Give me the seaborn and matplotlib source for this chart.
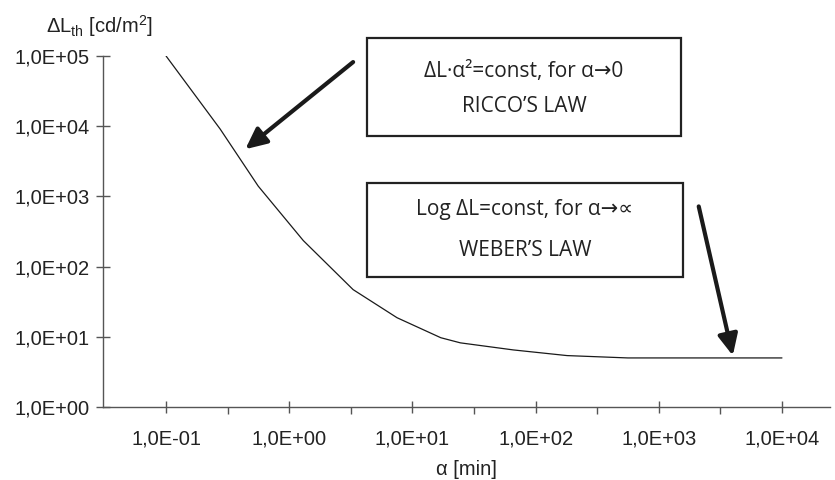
import numpy as np
import pandas as pd
import matplotlib
matplotlib.use("Agg")
import matplotlib.pyplot as plt
import matplotlib.ticker as mticker
from matplotlib.patches import Rectangle
import seaborn as sns

# ---- data ----
alpha_min = [0.1, 0.275, 0.56, 1.3, 3.3, 7.5, 17, 24.5, 66, 180, 560, 10000]
delta_L = [1e5, 9100, 1400, 235, 47, 18.7, 9.7, 8.2, 6.5, 5.4, 5.0, 5.0]

x_major = [1e-1, 1e0, 1e1, 1e2, 1e3, 1e4]
x_labels = ["1,0E-01", "1,0E+00", "1,0E+01", "1,0E+02", "1,0E+03", "1,0E+04"]
y_major = [1e0, 1e1, 1e2, 1e3, 1e4, 1e5]
y_labels = ["1,0E+00", "1,0E+01", "1,0E+02", "1,0E+03", "1,0E+04", "1,0E+05"]

box1_lines = ["ΔL·α²=const, for α→0", "RICCO’S LAW"]
box2_lines = ["Log ΔL=const, for α→∝", "WEBER’S LAW"]

df = pd.DataFrame({"alpha": alpha_min, "dL": delta_L})

sns.set_theme(style="white")
plt.rcParams["font.family"] = ["Liberation Sans", "DejaVu Sans"]
plt.rcParams["mathtext.fontset"] = "custom"
plt.rcParams["mathtext.rm"] = "Liberation Sans"
plt.rcParams["mathtext.it"] = "Liberation Sans:italic"
plt.rcParams["mathtext.bf"] = "Liberation Sans:bold"

W, H = 835, 480
fig = plt.figure(figsize=(W / 100, H / 100), dpi=100)
fig.patch.set_facecolor("white")
ax = fig.add_axes([103 / W, 1 - 407 / H, (830 - 103) / W, (407 - 56) / H])
ax.set_facecolor("white")

sns.lineplot(data=df, x="alpha", y="dL", ax=ax, color="#1a1a1a", linewidth=0.9)

ax.set_xscale("log")
ax.set_yscale("log")
ax.set_xlim(10 ** -1.512, 10 ** 4.39)
ax.set_ylim(1, 1e5)

for s in ["top", "right"]:
    ax.spines[s].set_visible(False)
for s in ["left", "bottom"]:
    ax.spines[s].set_color("#555555")
    ax.spines[s].set_linewidth(1.0)

ax.xaxis.set_major_locator(mticker.FixedLocator(x_major))
ax.xaxis.set_major_formatter(mticker.FixedFormatter(x_labels))
x_minor = [np.sqrt(10) * v for v in x_major[:-1]]
ax.xaxis.set_minor_locator(mticker.FixedLocator(x_minor))
ax.xaxis.set_minor_formatter(mticker.NullFormatter())
ax.yaxis.set_major_locator(mticker.FixedLocator(y_major))
ax.yaxis.set_major_formatter(mticker.FixedFormatter(y_labels))
ax.yaxis.set_minor_locator(mticker.NullLocator())

ax.tick_params(axis="x", which="both", bottom=True, top=False)
ax.tick_params(axis="y", which="both", left=True, right=False)
ax.tick_params(axis="x", which="major", direction="inout", length=8.6, width=1.0,
               color="#555555", pad=12, labelsize=14.5, labelcolor="#222222")
ax.tick_params(axis="x", which="minor", direction="out", length=5, width=1.0,
               color="#555555")
ax.tick_params(axis="y", which="major", direction="inout", length=10, width=1.0,
               color="#555555", pad=4.5, labelsize=14.5, labelcolor="#222222")
ax.set_xlabel("")
ax.set_ylabel("")

fig.text(466 / W, 1 - 475 / H, "α [min]", ha="center", va="baseline",
         fontsize=14.5, color="#222222")
fig.text(46 / W, 1 - 33 / H, r"ΔL$_{\mathrm{th}}$ [cd/m$^{2}$]", ha="left",
         va="baseline", fontsize=14.5, color="#222222")

# text boxes
box_font = ["Open Sans", "DejaVu Sans"]
for (x0, y0, x1, y1), lines, ys in [
    ((367, 38, 681, 136), box1_lines, (72, 106)),
    ((367, 183, 683, 277), box2_lines, (209, 251)),
]:
    rect = Rectangle((x0 / W, 1 - y1 / H), (x1 - x0) / W, (y1 - y0) / H,
                     transform=fig.transFigure, facecolor="white",
                     edgecolor="#222222", linewidth=1.6, zorder=5)
    fig.patches.append(rect)
    cx = (x0 + x1) / 2 / W
    for line, yy in zip(lines, ys):
        fig.text(cx, 1 - yy / H, line, ha="center", va="center",
                 fontsize=15, family=box_font, color="#222222", zorder=6)

# arrows
arrow_kw = dict(arrowstyle="-|>,head_length=0.85,head_width=0.4", lw=3,
                color="#1a1a1a", shrinkA=0, shrinkB=0, mutation_scale=15)
ax.annotate("", xy=(0.44, 4700), xytext=(3.3, 8.2e4), arrowprops=arrow_kw)
ax.annotate("", xy=(3990, 5.4), xytext=(2110, 720), arrowprops=arrow_kw)

fig.savefig("out.png", dpi=100, facecolor="white")
